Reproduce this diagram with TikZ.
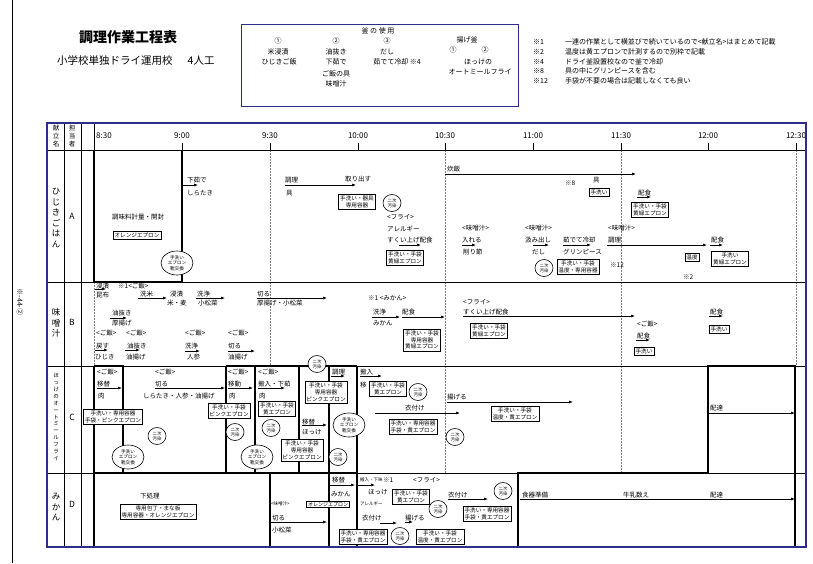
\documentclass[tikz,border=0pt]{standalone}
\usepackage{fontspec}
\setmainfont{Noto Sans CJK JP}
\usetikzlibrary{arrows.meta,shapes.geometric}
\definecolor{navy}{RGB}{45,45,140}
\newcommand\myflow[4]{\coordinate (#1s) at (#2,#3); \coordinate (#1e) at (#4,#3); \draw[arr] (#1s) -- (#1e);}
\begin{document}
\begin{tikzpicture}[x=1pt,y=-1pt,
  lbl/.style={font=\fontsize{6.5}{7}\selectfont, inner sep=0pt, anchor=west},
  sm/.style={font=\fontsize{4.5}{5}\selectfont, inner sep=0pt, anchor=west},
  hd/.style={font=\fontsize{7}{8}\selectfont, inner sep=0pt},
  nt/.style={font=\fontsize{7}{8}\selectfont, inner sep=0pt, anchor=west},
  tm/.style={font=\fontsize{8}{9}\selectfont, inner sep=0pt},
  rl/.style={font=\fontsize{8.5}{10.5}\selectfont, inner sep=0pt, align=center},
  bx/.style={draw, fill=white, line width=0.6pt, font=\fontsize{5.6}{6.8}\selectfont, inner xsep=1.5pt, inner ysep=1.6pt, align=center},
  cir/.style={draw, ellipse, fill=white, line width=0.6pt, font=\fontsize{4.4}{4.9}\selectfont, inner sep=0pt, minimum width=18pt, minimum height=17pt, align=center},
  elp/.style={draw, ellipse, fill=white, line width=0.6pt, font=\fontsize{4.6}{5.3}\selectfont, inner sep=0pt, minimum width=32pt, minimum height=24pt, align=center},
  arr/.style={-{Latex[length=4pt,width=3pt]}, line width=0.6pt},
  heavy/.style={line width=1.4pt},
  gline/.style={line width=0.6pt},
  dotline/.style={gray, line width=0.5pt, dash pattern=on 1.5pt off 1.5pt}]
\path[use as bounding box] (0,0) rectangle (813,563);
\fill[white] (0,0) rectangle (813,563);

% side mark
\draw[line width=0.8pt] (12,0) -- (12,563);
\node[rotate=-90, font=\fontsize{7}{8}\selectfont, inner sep=0pt] (side) at (20,302) {※-44-②};

% title
\node[font=\fontsize{14}{16}\selectfont\bfseries, inner sep=0pt] (title) at (128,37) {調理作業工程表};
\node[font=\fontsize{10.5}{12}\selectfont, anchor=west, inner sep=0pt] (sub) at (57,61) {小学校単独ドライ運用校\hspace{15pt}4人工};

% header box
\draw[navy, line width=1pt] (241,24) rectangle (518,106);
\node[hd] (k0) at (378,31) {釜\ の\ 使\ 用};
\node[hd] (k1) at (278,41) {①};
\node[hd] (k2) at (336,41) {②};
\node[hd] (k3) at (387,41) {③};
\node[hd] (k1a) at (278,52) {米浸漬};
\node[hd] (k1b) at (279,62) {ひじきご飯};
\node[hd] (k2a) at (336,52) {油抜き};
\node[hd] (k2b) at (336,62) {下茹で};
\node[hd] (k2c) at (336,74) {ご飯の具};
\node[hd] (k2d) at (336,84) {味噌汁};
\node[hd] (k3a) at (387,52) {だし};
\node[hd] (k3b) at (397,62) {茹でて冷却\ ※4};
\node[hd] (g0) at (467,40) {揚げ釜};
\node[hd] (g1) at (453,50) {①};
\node[hd] (g2) at (485,50) {②};
\node[hd] (g2a) at (478,62) {ほっけの};
\node[hd] (g2b) at (480,72) {オートミールフライ};

% notes
\node[nt] (n1) at (533,42) {※1};
\node[nt] (n1t) at (565,42) {一連の作業として横並びで続いているので<献立名>はまとめて記載};
\node[nt] (n2) at (533,52) {※2};
\node[nt] (n2t) at (565,52) {温度は黄エプロンで計測するので別枠で記載};
\node[nt] (n4) at (533,62) {※4};
\node[nt] (n4t) at (565,62) {ドライ釜設置校なので釜で冷却};
\node[nt] (n8) at (533,71) {※8};
\node[nt] (n8t) at (565,71) {具の中にグリンピースを含む};
\node[nt] (n12) at (533,81) {※12};
\node[nt] (n12t) at (565,81) {手袋が不要の場合は記載しなくても良い};

% dotted time lines
\draw[dotline] (270,150) -- (270,366);
\draw[dotline] (445,150) -- (445,473);
\draw[dotline] (621,150) -- (621,473);
\draw[dotline] (796,150) -- (796,366);
\draw[dotline] (94,282) -- (94,366);

% grid lines
\draw[gline] (64,123) -- (64,547);
\draw[gline] (81,123) -- (81,547);
\draw[gline] (94,123) -- (94,150);
\draw[gline] (47,282) -- (806,282);
\draw[gline] (47,366) -- (806,366);
\draw[gline] (47,473) -- (806,473);
\draw[line width=1pt] (47,150) -- (806,150);
\foreach \tx in {182,270,358,445,533,621,708,796} \draw[gline] (\tx,143) -- (\tx,150);

% time labels
\node[tm] (t1) at (104,136) {8:30};
\node[tm] (t2) at (182,136) {9:00};
\node[tm] (t3) at (270,136) {9:30};
\node[tm] (t4) at (358,136) {10:00};
\node[tm] (t5) at (445,136) {10:30};
\node[tm] (t6) at (533,136) {11:00};
\node[tm] (t7) at (621,136) {11:30};
\node[tm] (t8) at (708,136) {12:00};
\node[tm] (t9) at (796,136) {12:30};

% header column labels
\node[font=\fontsize{6.5}{8}\selectfont, inner sep=0pt, align=center] (hk) at (56,136) {献\\立\\名};
\node[font=\fontsize{6.5}{8}\selectfont, inner sep=0pt, align=center] (ht) at (72,136) {担\\当\\者};

% row labels
\node[rl] (rA) at (56,218) {ひ\\じ\\き\\ご\\は\\ん};
\node[font=\fontsize{8.5}{10}\selectfont] (rAl) at (72,216) {A};
\node[rl] (rB) at (56,323) {味\\噌\\汁};
\node[font=\fontsize{8.5}{10}\selectfont] (rBl) at (72,322) {B};
\node[font=\fontsize{5.5}{6.9}\selectfont, inner sep=0pt, align=center] (rC) at (56,417) {ほ\\っ\\け\\の\\オ\\ー\\ト\\ミ\\ー\\ル\\フ\\ラ\\イ};
\node[font=\fontsize{8.5}{10}\selectfont] (rCl) at (72,417) {C};
\node[rl] (rD) at (56,507) {み\\か\\ん};
\node[font=\fontsize{8.5}{10}\selectfont] (rDl) at (72,504) {D};

% heavy work areas
\draw[heavy] (94,150) -- (94,282) -- (182,282) -- (182,150);
\draw[heavy] (94,366) -- (94,547);
\draw[heavy] (94,366) -- (123,366) -- (123,473);
\draw[heavy] (226,366) -- (357,366);
\draw[heavy] (226,366) -- (226,473);
\draw[heavy] (255,366) -- (255,473);
\draw[heavy] (299,366) -- (299,473);
\draw[heavy] (329,366) -- (329,547);
\draw[heavy] (357,366) -- (357,547);
\draw[heavy] (94,473) -- (357,473);
\draw[heavy] (270,473) -- (270,547);
\draw[heavy] (518,547) -- (518,473) -- (708,473) -- (708,366) -- (795,366) -- (795,547);

% outer frame
\draw[navy, line width=1.2pt] (47,123) rectangle (806,547);

% ---------- Row A ----------
\node[lbl] (a1) at (112,217) {調味料計量・開封};
\node[bx] (a1b) at (137,235) {オレンジエプロン};
\node[elp] (a1e) at (177,263) {手洗い\\エプロン\\靴交換};
\node[lbl] (a2) at (187,180) {下茹で};
\myflow{fa2}{183}{185}{198}
\node[lbl] (a2b) at (187,193) {しらたき};
\node[lbl] (a3) at (285,180) {調理};
\node[lbl] (a3b) at (286,193) {具};
\myflow{fa3}{285}{185}{356}
\node[lbl] (a3c) at (345,179) {取り出す};
\node[bx] (a3d) at (357,202) {手洗い・器具\\専用容器};
\node[cir] (a3e) at (392,203) {二次\\汚染};
\node[lbl] (a4) at (387,217) {<フライ>};
\node[lbl] (a4b) at (387,229) {アレルギー};
\node[lbl] (a4c) at (387,240) {すくい上げ配食};
\myflow{fa4}{399}{245}{421}
\node[bx] (a4d) at (405,258) {手洗い・手袋\\黄緑エプロン};
\node[lbl] (a5) at (447,169) {炊飯};
\myflow{fa5}{445}{174}{636}
\node[lbl] (a6) at (565,183) {※8};
\node[lbl] (a6b) at (593,180) {具};
\node[bx] (a6c) at (599,192) {手洗い};
\node[lbl] (a7) at (638,193) {配食};
\myflow{fa7}{637}{197}{651}
\node[bx] (a7b) at (650,210) {手洗い・手袋\\黄緑エプロン};
\node[lbl] (a8) at (462,228) {<味噌汁>};
\node[lbl] (a8b) at (462,240) {入れる};
\myflow{fa8}{462}{245}{476}
\node[lbl] (a8c) at (463,252) {削り節};
\node[lbl] (a9) at (525,228) {<味噌汁>};
\node[lbl] (a9b) at (525,240) {汲み出し};
\myflow{fa9}{533}{245}{549}
\node[lbl] (a9c) at (532,252) {だし};
\node[lbl] (a10) at (563,240) {茹でて冷却};
\myflow{fa10}{563}{245}{591}
\node[lbl] (a10b) at (563,252) {グリンピース};
\node[cir] (a10c) at (544,268) {二次\\汚染};
\node[bx] (a10d) at (578,267) {手洗い・手袋\\温度・専用容器};
\node[lbl] (a11) at (608,228) {<味噌汁>};
\node[lbl] (a11b) at (608,240) {調理};
\myflow{fa11}{607}{245}{707}
\node[lbl] (a12) at (711,240) {配食};
\myflow{fa12}{710}{245}{723}
\node[lbl] (a13) at (610,265) {※12};
\node[bx] (a14) at (692,257) {温度};
\node[bx] (a15) at (730,259) {手洗い\\黄緑エプロン};
\node[lbl] (a16) at (683,277) {※2};

% ---------- Row B ----------
\node[lbl] (b1) at (96,286) {浸漬};
\myflow{fb1}{95}{289}{106}
\node[lbl] (b1b) at (96,295) {昆布};
\node[lbl] (b2) at (118,286) {※1<ご飯>};
\node[lbl] (b3) at (140,294) {洗米};
\myflow{fb3}{138}{298}{167}
\node[lbl] (b3b) at (170,294) {浸漬};
\node[lbl] (b3c) at (167,303) {米・麦};
\node[lbl] (b4) at (197,294) {洗浄};
\myflow{fb4}{196}{298}{225}
\node[lbl] (b4b) at (198,303) {小松菜};
\node[lbl] (b5) at (257,294) {切る};
\myflow{fb5}{257}{298}{327}
\node[lbl] (b5b) at (257,303) {厚揚げ・小松菜};
\node[lbl] (b6) at (112,313) {油抜き};
\myflow{fb6}{110}{318}{127}
\node[lbl] (b6b) at (112,323) {厚揚げ};
\node[lbl] (b7) at (368,298) {※1 <みかん>};
\node[lbl] (b7b) at (373,312) {洗浄};
\myflow{fb7}{372}{317}{400}
\node[lbl] (b7c) at (402,312) {配食};
\myflow{fb7d}{402}{317}{445}
\node[lbl] (b7e) at (373,323) {みかん};
\node[bx] (b7f) at (422,340) {手洗い・手袋\\専用容器\\黄緑エプロン};
\node[lbl] (b8) at (96,333) {<ご飯>};
\node[lbl] (b8b) at (96,346) {戻す};
\myflow{fb8}{95}{350}{108}
\node[lbl] (b8c) at (95,357) {ひじき};
\node[lbl] (b9) at (126,333) {<ご飯>};
\node[lbl] (b9b) at (127,346) {油抜き};
\myflow{fb9}{125}{350}{140}
\node[lbl] (b9c) at (126,357) {油揚げ};
\node[lbl] (b10) at (185,333) {<ご飯>};
\node[lbl] (b10b) at (185,346) {洗浄};
\myflow{fb10}{185}{351}{200}
\node[lbl] (b10c) at (187,357) {人参};
\node[lbl] (b11) at (228,333) {<ご飯>};
\node[lbl] (b11b) at (228,346) {切る};
\myflow{fb11}{228}{351}{255}
\node[lbl] (b11c) at (228,357) {油揚げ};
\node[lbl] (b12) at (463,302) {<フライ>};
\node[lbl] (b12b) at (463,312) {すくい上げ配食};
\myflow{fb12}{463}{316}{635}
\node[bx] (b12c) at (489,331) {手洗い・手袋\\黄緑エプロン};
\node[lbl] (b13) at (637,324) {<ご飯>};
\node[lbl] (b13b) at (637,336) {配食};
\myflow{fb13}{636}{340}{650}
\node[bx] (b13c) at (644,351) {手洗い};
\node[lbl] (b14) at (710,312) {配食};
\myflow{fb14}{709}{316}{723}
\node[bx] (b14b) at (719,329) {手洗い};
\node[cir] (b15) at (317,364) {二次\\汚染};

% ---------- Row C ----------
\node[lbl] (c1) at (97,372) {<ご飯>};
\node[lbl] (c1b) at (97,384) {移替};
\myflow{fc1}{97}{388}{122}
\node[lbl] (c1c) at (98,396) {肉};
\node[lbl] (c2) at (155,372) {<ご飯>};
\node[lbl] (c2b) at (155,384) {切る};
\myflow{fc2}{155}{388}{225}
\node[lbl] (c2c) at (143,396) {しらたき・人参・油揚げ};
\node[lbl] (c3) at (228,372) {<ご飯>};
\node[lbl] (c3b) at (228,384) {移動};
\myflow{fc3}{228}{388}{253}
\node[lbl] (c3c) at (229,396) {肉};
\node[lbl] (c4) at (258,372) {<ご飯>};
\node[lbl] (c4b) at (258,384) {搬入・下茹};
\myflow{fc4}{258}{388}{285}
\node[lbl] (c4c) at (259,396) {肉};
\node[lbl] (c5) at (332,372) {調理};
\myflow{fc5}{331}{376}{345}
\node[bx] (c6) at (113,417) {手洗い・専用容器\\手袋・ピンクエプロン};
\node[cir] (c6b) at (157,436) {二次\\汚染};
\node[elp] (c6c) at (128,457) {手洗い\\エプロン\\靴交換};
\node[bx] (c7) at (229,411) {手洗い・手袋\\ピンクエプロン};
\node[bx] (c8) at (277,409) {手洗い・手袋\\黄エプロン};
\node[cir] (c7b) at (235,432) {二次\\汚染};
\node[cir] (c8b) at (271,428) {二次\\汚染};
\node[elp] (c8c) at (257,457) {手洗い\\エプロン\\靴交換};
\node[bx] (c9) at (326,392) {手洗い・手袋\\専用容器\\ピンクエプロン};
\node[lbl] (c10) at (302,422) {移替};
\myflow{fc10}{302}{425}{327}
\node[lbl] (c10b) at (302,432) {ほっけ};
\node[bx] (c10c) at (302,450) {手洗い・手袋\\専用容器\\ピンクエプロン};
\node[elp] (c10d) at (349,425) {手洗い\\エプロン\\靴交換};
\node[cir] (c10e) at (338,457) {二次\\汚染};
\node[lbl] (c11) at (360,372) {搬入};
\myflow{fc11}{360}{376}{382}
\node[lbl] (c11b) at (360,385) {移};
\node[bx] (c11c) at (388,389) {手洗い・手袋\\黄エプロン};
\node[cir] (c11d) at (418,392) {二次\\汚染};
\node[lbl] (c12) at (405,408) {衣付け};
\myflow{fc12}{375}{413}{460}
\node[bx] (c12b) at (413,427) {手洗い・専用容器\\手袋・黄エプロン};
\node[cir] (c12c) at (455,437) {二次\\汚染};
\node[lbl] (c13) at (447,397) {揚げる};
\myflow{fc13}{447}{402}{573}
\node[bx] (c13b) at (515,414) {手洗い・手袋\\温度・黄エプロン};
\node[lbl] (c14) at (710,408) {配達};
\myflow{fc14}{708}{413}{795}

% ---------- Row D ----------
\node[lbl] (d1) at (140,496) {下処理};
\node[bx] (d1b) at (158,512) {専用包丁・まな板\\専用容器・オレンジエプロン};
\node[sm] (d2) at (271,504) {<味噌汁>};
\node[bx, font=\fontsize{5}{6}\selectfont, inner ysep=1pt] (d2b) at (328,504) {オレンジエプロン};
\node[lbl] (d3) at (272,518) {切る};
\myflow{fd3}{270}{522}{327}
\node[lbl] (d3b) at (272,530) {小松菜};
\node[lbl] (d4) at (332,480) {移替};
\myflow{fd4}{330}{485}{355}
\node[lbl] (d4b) at (331,494) {みかん};
\node[sm] (d5) at (360,480) {搬入・下味};
\myflow{fd5}{358}{485}{375}
\node[lbl] (d5b) at (383,480) {※1};
\node[lbl] (d5c) at (413,480) {<フライ>};
\node[lbl] (d6) at (368,492) {ほっけ};
\node[bx] (d6b) at (411,497) {手洗い・手袋\\黄エプロン};
\node[sm] (d7) at (360,504) {アレルギー};
\node[cir] (d7b) at (438,509) {二次\\汚染};
\node[lbl] (d8) at (448,495) {衣付け};
\myflow{fd8}{448}{499}{488}
\node[cir] (d8b) at (503,491) {二次\\汚染};
\node[bx] (d8c) at (487,514) {手洗い・専用容器\\手袋・黄エプロン};
\node[lbl] (d9) at (362,518) {衣付け};
\myflow{fd9}{380}{523}{397}
\node[lbl] (d10) at (405,518) {揚げる};
\myflow{fd10}{405}{522}{413}
\node[bx] (d10b) at (363,537) {手洗い・専用容器\\手袋・黄エプロン};
\node[cir] (d10c) at (400,536) {二次\\汚染};
\node[bx] (d10d) at (440,537) {手洗い・手袋\\温度・黄エプロン};
\node[lbl] (d11) at (522,495) {食器準備};
\myflow{fd11}{520}{499}{795}
\node[lbl] (d11b) at (623,495) {牛乳数え};
\node[lbl] (d11c) at (710,495) {配達};
\end{tikzpicture}
\end{document}
